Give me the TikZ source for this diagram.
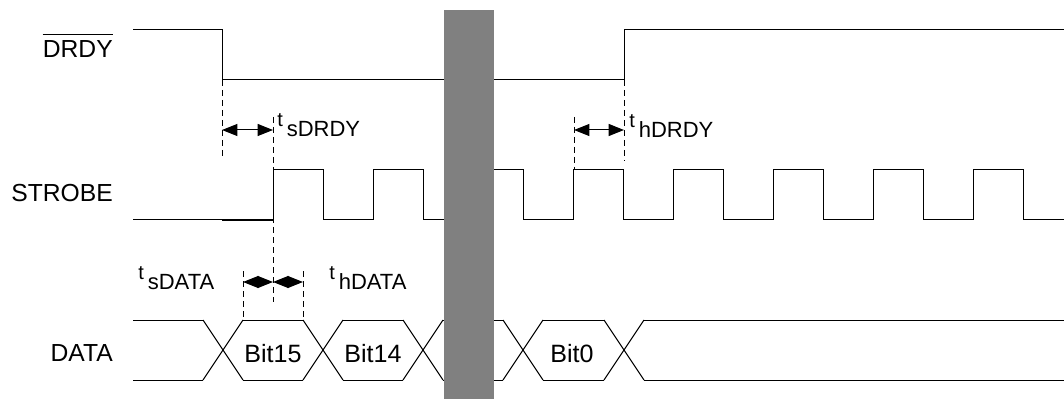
\documentclass[tikz,border=0pt]{standalone}
\usepackage{fontspec}
\setmainfont{Liberation Sans}
\usetikzlibrary{arrows.meta}

\newcommand\tsub[1]{t\kern3pt\raisebox{-7.5pt}{\fontsize{16.5}{19}\selectfont #1}}

\begin{document}
\begin{tikzpicture}[x=0.75pt,y=-0.75pt]
  \tikzset{wave/.style={line width=0.75pt},
    guide/.style={line width=0.75pt,dash pattern=on 4.5pt off 3pt},
    timing/.style={line width=0.75pt,{Triangle[length=11.5pt,width=9pt]}-{Triangle[length=11.5pt,width=9pt]}},
    signame/.style={anchor=east,inner sep=0pt,font=\fontsize{18.5}{22}\selectfont},
    bitname/.style={inner sep=0pt,font=\fontsize{18.8}{22}\selectfont},
    tlabel/.style={anchor=base west,inner sep=0pt,font=\fontsize{15}{17}\selectfont}}
  \useasboundingbox (0,0) rectangle (1064,399);

  % signal names
  \node [signame] (drdy) at (113,49.5) {DRDY};
  \draw [wave] ([yshift=4.5pt]drdy.north west) -- ([yshift=4.5pt]drdy.north east);
  \node [signame] (strobe) at (113,193) {STROBE};
  \node [signame] (data) at (113,353.5) {DATA};

  % DRDY
  \draw [wave] (133,30) -- (222,30) -- (222,80) -- (624,80) -- (624,30) -- (1064,30);

  % STROBE
  \draw [wave] (133,220) foreach \x in {273,373,...,973} { -- (\x,220) -- (\x,170) -- (\x+50,170) -- (\x+50,220) } -- (1064,220);
  \draw [line width=1.3pt] (222,220) -- (273,220);

  % DATA bus
  \foreach \a/\b in {133/203,243/303,343/403,443/503,543/604,644/1064}
    \draw [wave] (\a,320) -- (\b,320) (\a,380) -- (\b,380);
  \foreach \c/\h in {223/20,323/20,423/20,523/20,624/20}
    \draw [wave] (\c-\h,320) -- (\c+\h,380) (\c-\h,380) -- (\c+\h,320);
  \node [bitname] (bit15) at (273,354) {Bit15};
  \node [bitname] (bit14) at (373,354) {Bit14};
  \node [bitname] (bit0) at (572,354) {Bit0};

  % guides
  \draw [guide] (222,80) -- (222,160);
  \draw [guide] (273,117) -- (273,302);
  \draw [guide] (574,117) -- (574,170);
  \draw [guide] (624,80) -- (624,161);
  \draw [guide] (243,271) -- (243,320);
  \draw [guide] (303,271) -- (303,320);

  % timings
  \coordinate (sdA) at (222,130);
  \coordinate (sdB) at (273,130);
  \coordinate (hdA) at (574,130);
  \coordinate (hdB) at (624,130);
  \coordinate (daA) at (243,282);
  \coordinate (daB) at (273,282);
  \coordinate (daC) at (303,282);
  \draw [timing] (sdA) -- (sdB);
  \draw [timing] (hdA) -- (hdB);
  \draw [timing] (daA) -- (daB);
  \draw [timing] (daB) -- (daC);
  \node [tlabel] (tsdrdy) at (277,127) {\tsub{sDRDY}};
  \node [tlabel] (thdrdy) at (629,128) {\tsub{hDRDY}};
  \node [tlabel] (tsdata) at (138,279) {\tsub{sDATA}};
  \node [tlabel] (thdata) at (329,279) {\tsub{hDATA}};

  % break bar
  \fill [gray] (444,10) rectangle (494,399);
\end{tikzpicture}
\end{document}
